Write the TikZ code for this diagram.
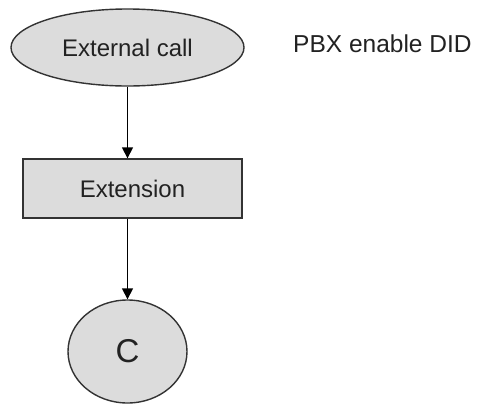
\documentclass[tikz,border=0pt]{standalone}
\usepackage{fontspec}
\setmainfont{Liberation Sans}
\usetikzlibrary{shapes.geometric,arrows.meta}
\definecolor{boxfill}{HTML}{DCDCDC}
\definecolor{edge}{HTML}{333333}
\definecolor{ink}{HTML}{222222}
\begin{document}
\begin{tikzpicture}[x=1pt,y=-1pt,
  shapebox/.style={draw=edge,line width=1.4pt,fill=boxfill,text=ink,inner sep=0pt,font=\fontsize{24}{28}\selectfont},
  conn/.style={draw=black,line width=1.6pt,-{Triangle[length=11pt,width=11pt]}}]
\path[use as bounding box,fill=white] (0,0) rectangle (477,405);
\node[shapebox,ellipse,minimum width=233pt,minimum height=77pt] (e) at (127.5,47.5) {External call};
\node[shapebox,rectangle,minimum width=219pt,minimum height=59pt] (r) at (132.5,188.5) {Extension};
\node[shapebox,ellipse,minimum width=119pt,minimum height=103pt,font=\fontsize{33}{38}\selectfont] (c) at (127.5,351.5) {C};
\node[anchor=base west,inner sep=0pt,text=ink,font=\fontsize{24.5}{28}\selectfont] (t) at (293,52) {PBX enable DID};
\draw[conn] (e.south) -- (e.south |- r.north);
\draw[conn] (c.north |- r.south) -- (c.north);
\end{tikzpicture}
\end{document}
